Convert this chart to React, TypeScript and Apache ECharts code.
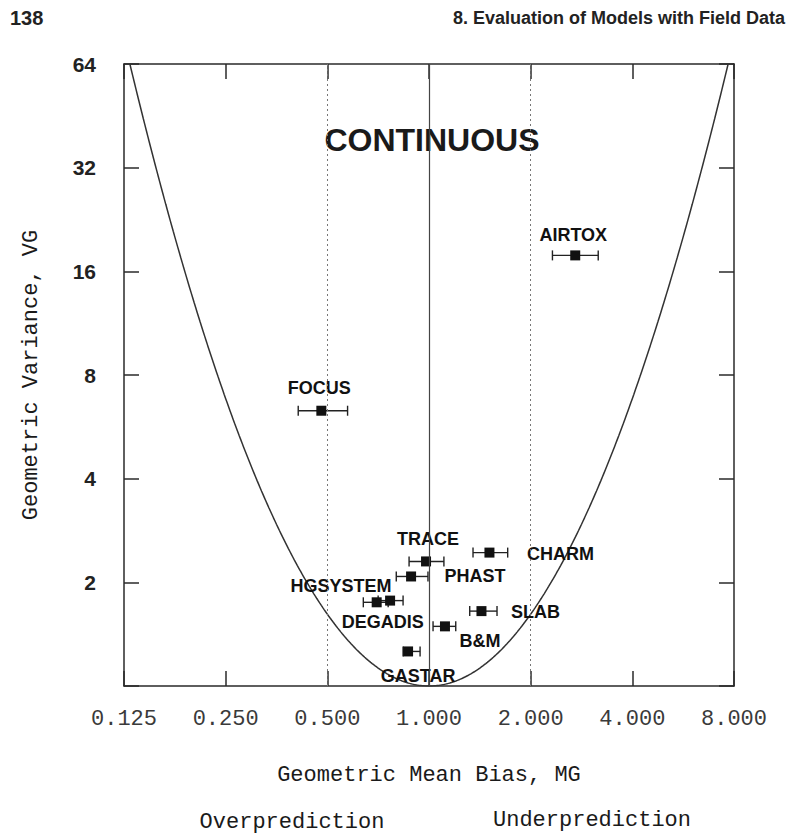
import React, { useEffect, useRef } from 'react';
import * as echarts from 'echarts';

// ---- data ----
const models = ['AIRTOX', 'FOCUS', 'TRACE', 'CHARM', 'PHAST', 'HGSYSTEM', 'DEGADIS', 'SLAB', 'B&M', 'GASTAR'];
const mgValues = [2.71, 0.48, 0.98, 1.51, 0.885, 0.767, 0.7, 1.43, 1.115, 0.867];
const vgValues = [17.8, 6.3, 2.3, 2.44, 2.08, 1.77, 1.75, 1.65, 1.49, 1.26];
const mgLow = [2.32, 0.41, 0.873, 1.35, 0.8, 0.707, 0.639, 1.32, 1.028, 0.838];
const mgHigh = [3.17, 0.574, 1.107, 1.71, 0.993, 0.838, 0.757, 1.59, 1.2, 0.941];

const xTicks = [0.125, 0.25, 0.5, 1, 2, 4, 8];
const yTicks = [1, 2, 4, 8, 16, 32, 64];
const referenceLines = [0.5, 1, 2];

// label placement (pixel offsets from the marker centre)
const labelOffsets: Record<string, [number, number]> = {
  AIRTOX: [-2, -20],
  FOCUS: [-2, -23],
  TRACE: [2, -22],
  CHARM: [71, 1],
  PHAST: [64, 0],
  HGSYSTEM: [-49, -15],
  DEGADIS: [6, 20],
  SLAB: [54, 1],
  'B&M': [35, 15],
  GASTAR: [10, 25],
};

// theoretical minimum-VG curve: ln VG = (ln MG)^2
function boundaryCurve(): number[][] {
  const pts: number[][] = [];
  const yMax = yTicks[yTicks.length - 1];
  const lim = Math.sqrt(Math.log(yMax));
  const n = 400;
  for (let i = 0; i <= n; i++) {
    const l = -lim + (2 * lim * i) / n;
    pts.push([Math.exp(l), Math.exp(l * l)]);
  }
  return pts;
}

const MONO = '"Liberation Mono", "DejaVu Sans Mono", monospace';
const SANS = '"Liberation Sans", Arial, sans-serif';

export default function App() {
  const ref = useRef<HTMLDivElement>(null);
  useEffect(() => {
    document.body.style.margin = '0';
    if (!ref.current) return;
    const chart = echarts.init(ref.current, undefined, { renderer: 'svg' });
    const axisColor = '#2a2a2a';
    const lineStyle = { color: axisColor, width: 1.5 };
    const xMin = xTicks[0];
    const xMax = xTicks[xTicks.length - 1];
    const yMin = yTicks[0];
    const yMax = yTicks[yTicks.length - 1];

    const option: any = {
      animation: false,
      backgroundColor: '#ffffff',
      grid: { left: 124, right: 53, top: 64, bottom: 152, containLabel: false },
      xAxis: [
        {
          type: 'log',
          logBase: 2,
          min: xMin,
          max: xMax,
          position: 'bottom',
          axisLine: { show: true, lineStyle },
          axisTick: { show: true, inside: true, length: 15, lineStyle },
          splitLine: { show: false },
          axisLabel: {
            formatter: (v: number) => v.toFixed(3),
            fontFamily: MONO,
            fontSize: 22,
            color: '#3a3a3a',
            margin: 22,
          },
          name: 'Geometric Mean Bias, MG',
          nameLocation: 'middle',
          nameGap: 78,
          nameTextStyle: { fontFamily: MONO, fontSize: 22, color: '#1a1a1a' },
        },
        {
          type: 'log',
          logBase: 2,
          min: xMin,
          max: xMax,
          position: 'top',
          axisLine: { show: true, lineStyle },
          axisTick: { show: true, inside: true, length: 15, lineStyle },
          splitLine: { show: false },
          axisLabel: { show: false },
        },
      ],
      yAxis: [
        {
          type: 'log',
          logBase: 2,
          min: yMin,
          max: yMax,
          position: 'left',
          axisLine: { show: true, lineStyle },
          axisTick: { show: true, inside: true, length: 15, lineStyle },
          splitLine: { show: false },
          axisLabel: {
            formatter: (v: number) => (v >= 1.5 ? String(Math.round(v)) : ''),
            fontFamily: SANS,
            fontWeight: 'bold',
            fontSize: 21,
            color: '#222',
            margin: 28,
          },
          name: 'Geometric Variance, VG',
          nameLocation: 'middle',
          nameRotate: 90,
          nameGap: 82,
          nameTextStyle: { fontFamily: MONO, fontSize: 22, color: '#1a1a1a' },
        },
        {
          type: 'log',
          logBase: 2,
          min: yMin,
          max: yMax,
          position: 'right',
          axisLine: { show: true, lineStyle },
          axisTick: { show: true, inside: true, length: 15, lineStyle },
          splitLine: { show: false },
          axisLabel: { show: false },
        },
      ],
      graphic: [
        {
          type: 'text',
          left: 10,
          top: 8,
          style: { text: '138', fontFamily: SANS, fontWeight: 'bold', fontSize: 20, fill: '#222' },
        },
        {
          type: 'text',
          right: 2,
          top: 9,
          style: {
            text: '8. Evaluation of Models with Field Data',
            fontFamily: SANS,
            fontWeight: 'bold',
            fontSize: 18,
            fill: '#222',
          },
        },
        {
          type: 'text',
          x: 432,
          y: 140,
          style: {
            text: 'CONTINUOUS',
            fontFamily: SANS,
            fontWeight: 'bold',
            fontSize: 32,
            fill: '#1a1a1a',
            align: 'center',
            verticalAlign: 'middle',
          },
        },
        {
          type: 'text',
          x: 292,
          y: 822,
          style: {
            text: 'Overprediction',
            fontFamily: MONO,
            fontSize: 22,
            fill: '#1a1a1a',
            align: 'center',
            verticalAlign: 'middle',
          },
        },
        {
          type: 'text',
          x: 592,
          y: 820,
          style: {
            text: 'Underprediction',
            fontFamily: MONO,
            fontSize: 22,
            fill: '#1a1a1a',
            align: 'center',
            verticalAlign: 'middle',
          },
        },
      ],
      series: [
        {
          type: 'line',
          name: 'boundary',
          data: boundaryCurve(),
          showSymbol: false,
          symbol: 'none',
          smooth: false,
          lineStyle: { color: '#333', width: 1.5 },
          silent: true,
          z: 2,
          markLine: {
            silent: true,
            symbol: ['none', 'none'],
            label: { show: false },
            data: referenceLines.map((v) => ({
              xAxis: v,
              lineStyle: v === 1
                ? { type: 'solid', color: '#444', width: 1.2 }
                : { type: [2, 3], color: '#777', width: 1 },
            })),
          },
        },
        {
          type: 'custom',
          name: 'range',
          data: models.map((_, i) => [mgLow[i], mgHigh[i], vgValues[i]]),
          encode: { x: [0, 1], y: 2 },
          renderItem: (params: any, api: any) => {
            const lo = api.coord([api.value(0), api.value(2)]);
            const hi = api.coord([api.value(1), api.value(2)]);
            const h = 5;
            const st = { stroke: '#222', lineWidth: 1.4 };
            return {
              type: 'group',
              children: [
                { type: 'line', shape: { x1: lo[0], y1: lo[1], x2: hi[0], y2: hi[1] }, style: st },
                { type: 'line', shape: { x1: lo[0], y1: lo[1] - h, x2: lo[0], y2: lo[1] + h }, style: st },
                { type: 'line', shape: { x1: hi[0], y1: hi[1] - h, x2: hi[0], y2: hi[1] + h }, style: st },
              ],
            };
          },
          z: 3,
        },
        {
          type: 'scatter',
          name: 'models',
          symbol: 'rect',
          symbolSize: 10,
          itemStyle: { color: '#111', opacity: 1 },
          z: 4,
          data: models.map((m, i) => ({
            name: m,
            value: [mgValues[i], vgValues[i]],
            label: {
              show: true,
              position: 'inside',
              offset: labelOffsets[m],
              formatter: '{b}',
              fontFamily: SANS,
              fontWeight: 'bold',
              fontSize: 18,
              color: '#111',
              opacity: 1,
            },
          })),
        },
      ],
    };
    chart.setOption(option);
    return () => chart.dispose();
  }, []);
  return <div ref={ref} style={{ width: 787, height: 838 }} />;
}
